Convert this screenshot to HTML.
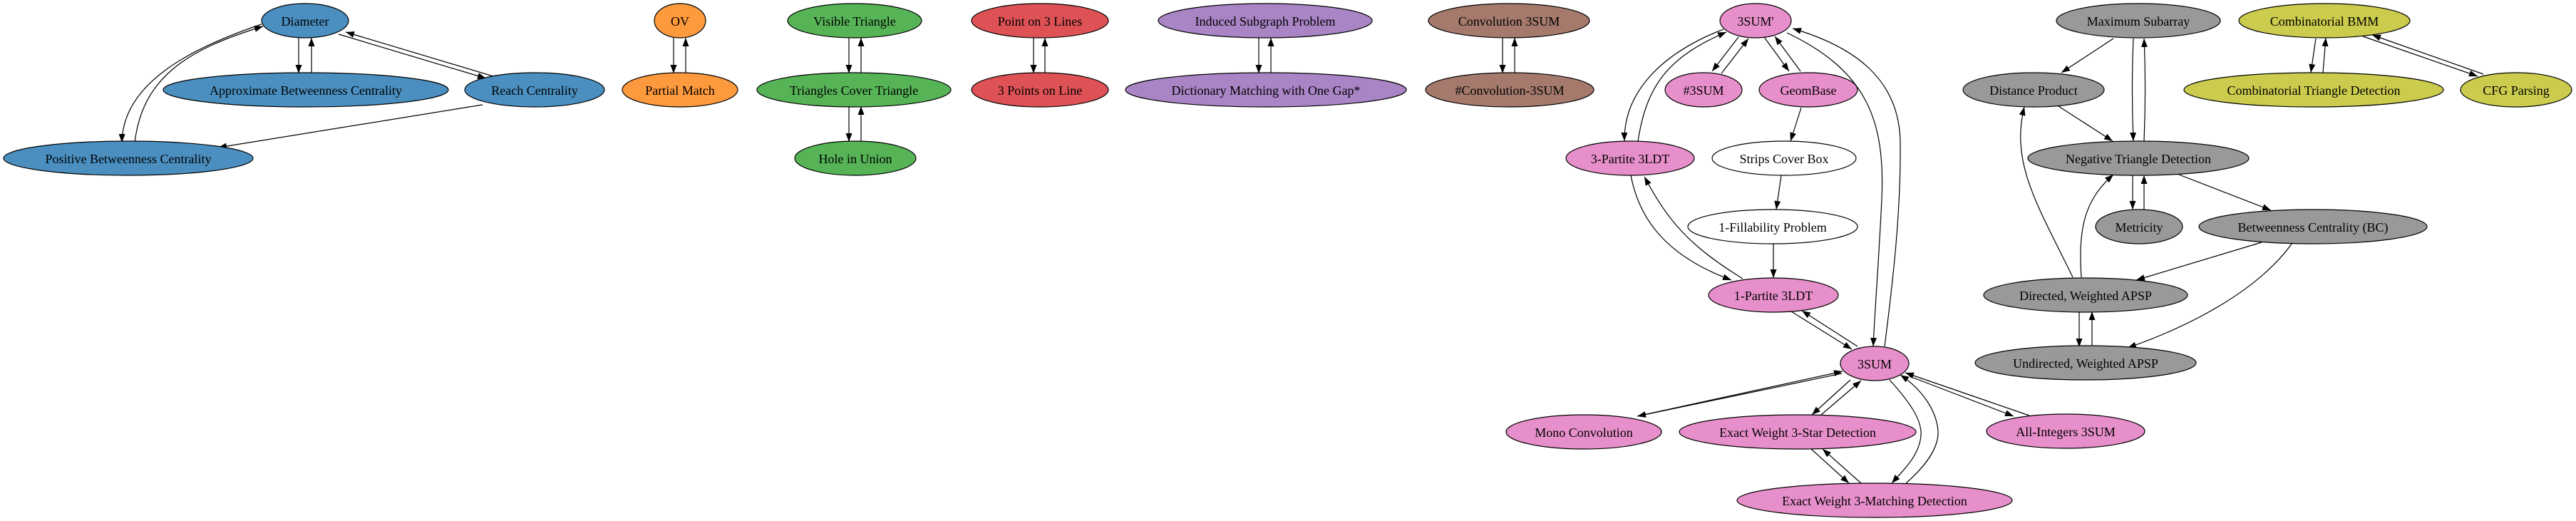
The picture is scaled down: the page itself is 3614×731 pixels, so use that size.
<!DOCTYPE html>
<html><head><meta charset="utf-8"><style>
html,body{margin:0;padding:0;background:#fff;}
svg{display:block;}
text{font-family:"Liberation Serif",serif;font-size:18px;text-anchor:middle;dominant-baseline:central;fill:#000;}
ellipse{stroke:#000;stroke-width:1.2;}
.e{fill:none;stroke:#000;stroke-width:1.2;marker-end:url(#a);}
</style></head><body>
<svg width="3614" height="731" viewBox="0 0 3614 731" xmlns="http://www.w3.org/2000/svg">
<defs><marker id="a" markerUnits="userSpaceOnUse" markerWidth="12" markerHeight="9" refX="12" refY="4.5" orient="auto"><path d="M0,0 L12,4.5 L0,9 z" fill="#000"/></marker></defs>

<!-- edges: blue -->
<path class="e" d="M419,53 L419,103"/>
<path class="e" d="M437,103 L437,53"/>
<path class="e" d="M475,48 L682,110"/>
<path class="e" d="M692,107 L485,45"/>
<path class="e" d="M367,34 C260,70 172,120 171,200"/>
<path class="e" d="M189,200 C200,110 260,70 369,37"/>
<path class="e" d="M677,147 L306,207"/>
<!-- orange, green, red, purple, brown -->
<path class="e" d="M945,53 L945,103"/><path class="e" d="M962,103 L962,53"/>
<path class="e" d="M1191,53 L1191,103"/><path class="e" d="M1208,103 L1208,53"/>
<path class="e" d="M1191,149 L1191,199"/><path class="e" d="M1208,199 L1208,149"/>
<path class="e" d="M1450,53 L1450,103"/><path class="e" d="M1466,103 L1466,53"/>
<path class="e" d="M1766,53 L1766,103"/><path class="e" d="M1783,103 L1783,53"/>
<path class="e" d="M2108,53 L2108,103"/><path class="e" d="M2125,103 L2125,53"/>
<!-- pink -->
<path class="e" d="M2439,52 L2402,100"/>
<path class="e" d="M2415,103 L2453,54"/>
<path class="e" d="M2475,52 L2510,100"/>
<path class="e" d="M2526,100 L2490,51"/>
<path class="e" d="M2418,41 C2330,75 2278,130 2279,198"/>
<path class="e" d="M2298,198 C2310,120 2340,80 2422,45"/>
<path class="e" d="M2507,46 C2620,100 2645,170 2640,280 C2635,380 2630,440 2628,486"/>
<path class="e" d="M2644,486 C2655,400 2667,300 2666,200 C2665,110 2600,65 2515,40"/>
<path class="e" d="M2527,151 L2512,198"/>
<path class="e" d="M2499,246 L2492,294"/>
<path class="e" d="M2488,342 L2488,390"/>
<path class="e" d="M2288,246 C2300,310 2340,360 2429,393"/>
<path class="e" d="M2445,391 C2370,345 2340,310 2307,248"/>
<path class="e" d="M2513,437 L2598,490"/>
<path class="e" d="M2606,486 L2528,436"/>
<path class="e" d="M2584,524 L2297,584"/>
<path class="e" d="M2306,582 L2585,521"/>
<path class="e" d="M2596,533 L2542,582"/>
<path class="e" d="M2555,582 L2611,534"/>
<path class="e" d="M2541,630 L2594,678"/>
<path class="e" d="M2611,678 L2557,630"/>
<path class="e" d="M2651,533 C2680,565 2697,590 2695,612 C2692,640 2670,660 2654,678"/>
<path class="e" d="M2674,678 C2700,655 2720,630 2719,605 C2717,575 2695,545 2666,526"/>
<path class="e" d="M2679,528 L2825,584"/>
<path class="e" d="M2847,583 L2673,523"/>
<!-- gray -->
<path class="e" d="M2965,54 L2892,102"/>
<path class="e" d="M2993,54 C2991,100 2991,150 2993,198"/>
<path class="e" d="M3008,198 C3010,150 3010,100 3008,54"/>
<path class="e" d="M2888,149 L2964,198"/>
<path class="e" d="M2992,246 L2992,294"/>
<path class="e" d="M3008,294 L3008,246"/>
<path class="e" d="M3057,245 L3186,295"/>
<path class="e" d="M3173,340 L2997,393"/>
<path class="e" d="M3216,341 C3170,405 3080,455 2985,488"/>
<path class="e" d="M2908,389 C2860,290 2820,230 2840,150"/>
<path class="e" d="M2920,389 C2915,320 2925,280 2965,245"/>
<path class="e" d="M2917,437 L2917,487"/>
<path class="e" d="M2935,487 L2935,437"/>
<!-- olive -->
<path class="e" d="M3249,54 L3242,102"/>
<path class="e" d="M3259,102 L3263,53"/>
<path class="e" d="M3315,51 L3476,107"/>
<path class="e" d="M3484,104 L3328,49"/>

<!-- nodes -->
<g fill="#4a8fc0">
<ellipse cx="428" cy="29" rx="61" ry="24"/>
<ellipse cx="429" cy="126" rx="200" ry="24"/>
<ellipse cx="750" cy="126" rx="98" ry="24"/>
<ellipse cx="180" cy="222" rx="175" ry="24"/>
</g>
<g fill="#fe9a3e">
<ellipse cx="954" cy="29" rx="36" ry="24"/>
<ellipse cx="954" cy="126" rx="81" ry="24"/>
</g>
<g fill="#56b457">
<ellipse cx="1199" cy="29" rx="94" ry="24"/>
<ellipse cx="1198" cy="126" rx="136" ry="24"/>
<ellipse cx="1200" cy="222" rx="85" ry="24"/>
</g>
<g fill="#de5256">
<ellipse cx="1459" cy="29" rx="96" ry="24"/>
<ellipse cx="1459" cy="126" rx="96" ry="24"/>
</g>
<g fill="#a985c6">
<ellipse cx="1775" cy="29" rx="150" ry="24"/>
<ellipse cx="1776" cy="126" rx="197" ry="24"/>
</g>
<g fill="#a57a6d">
<ellipse cx="2117" cy="29" rx="113" ry="24"/>
<ellipse cx="2118" cy="126" rx="118" ry="24"/>
</g>
<g fill="#e78fca">
<ellipse cx="2463" cy="29" rx="50" ry="24"/>
<ellipse cx="2390" cy="126" rx="54" ry="24"/>
<ellipse cx="2537" cy="126" rx="69" ry="24"/>
<ellipse cx="2287" cy="222" rx="90" ry="24"/>
<ellipse cx="2488" cy="414" rx="91" ry="24"/>
<ellipse cx="2630" cy="510" rx="48" ry="24"/>
<ellipse cx="2222" cy="606" rx="109" ry="24"/>
<ellipse cx="2522" cy="606" rx="166" ry="24"/>
<ellipse cx="2898" cy="605" rx="111" ry="24"/>
<ellipse cx="2630" cy="702" rx="193" ry="24"/>
</g>
<g fill="#ffffff">
<ellipse cx="2503" cy="222" rx="101" ry="24"/>
<ellipse cx="2487" cy="318" rx="119" ry="24"/>
</g>
<g fill="#999999">
<ellipse cx="3000" cy="29" rx="115" ry="24"/>
<ellipse cx="2853" cy="126" rx="99" ry="24"/>
<ellipse cx="3000" cy="222" rx="155" ry="24"/>
<ellipse cx="3001" cy="318" rx="61" ry="24"/>
<ellipse cx="3245" cy="318" rx="160" ry="24"/>
<ellipse cx="2926" cy="414" rx="143" ry="24"/>
<ellipse cx="2926" cy="509" rx="155" ry="24"/>
</g>
<g fill="#cbcb4e">
<ellipse cx="3261" cy="29" rx="120" ry="24"/>
<ellipse cx="3246" cy="126" rx="182" ry="24"/>
<ellipse cx="3530" cy="126" rx="78" ry="24"/>
</g>

<!-- labels -->
<text x="428" y="30">Diameter</text>
<text x="429" y="127">Approximate Betweenness Centrality</text>
<text x="750" y="127">Reach Centrality</text>
<text x="180" y="223">Positive Betweenness Centrality</text>
<text x="954" y="30">OV</text>
<text x="954" y="127">Partial Match</text>
<text x="1199" y="30">Visible Triangle</text>
<text x="1198" y="127">Triangles Cover Triangle</text>
<text x="1200" y="223">Hole in Union</text>
<text x="1459" y="30">Point on 3 Lines</text>
<text x="1459" y="127">3 Points on Line</text>
<text x="1775" y="30">Induced Subgraph Problem</text>
<text x="1776" y="127">Dictionary Matching with One Gap*</text>
<text x="2117" y="30">Convolution 3SUM</text>
<text x="2118" y="127">#Convolution-3SUM</text>
<text x="2463" y="30">3SUM'</text>
<text x="2390" y="127">#3SUM</text>
<text x="2537" y="127">GeomBase</text>
<text x="2287" y="223">3-Partite 3LDT</text>
<text x="2503" y="223">Strips Cover Box</text>
<text x="2487" y="319">1-Fillability Problem</text>
<text x="2488" y="415">1-Partite 3LDT</text>
<text x="2630" y="511">3SUM</text>
<text x="2222" y="607">Mono Convolution</text>
<text x="2522" y="607">Exact Weight 3-Star Detection</text>
<text x="2898" y="606">All-Integers 3SUM</text>
<text x="2630" y="703">Exact Weight 3-Matching Detection</text>
<text x="3000" y="30">Maximum Subarray</text>
<text x="2853" y="127">Distance Product</text>
<text x="3000" y="223">Negative Triangle Detection</text>
<text x="3001" y="319">Metricity</text>
<text x="3245" y="319">Betweenness Centrality (BC)</text>
<text x="2926" y="415">Directed, Weighted APSP</text>
<text x="2926" y="510">Undirected, Weighted APSP</text>
<text x="3261" y="30">Combinatorial BMM</text>
<text x="3246" y="127">Combinatorial Triangle Detection</text>
<text x="3530" y="127">CFG Parsing</text>
</svg>
</body></html>
